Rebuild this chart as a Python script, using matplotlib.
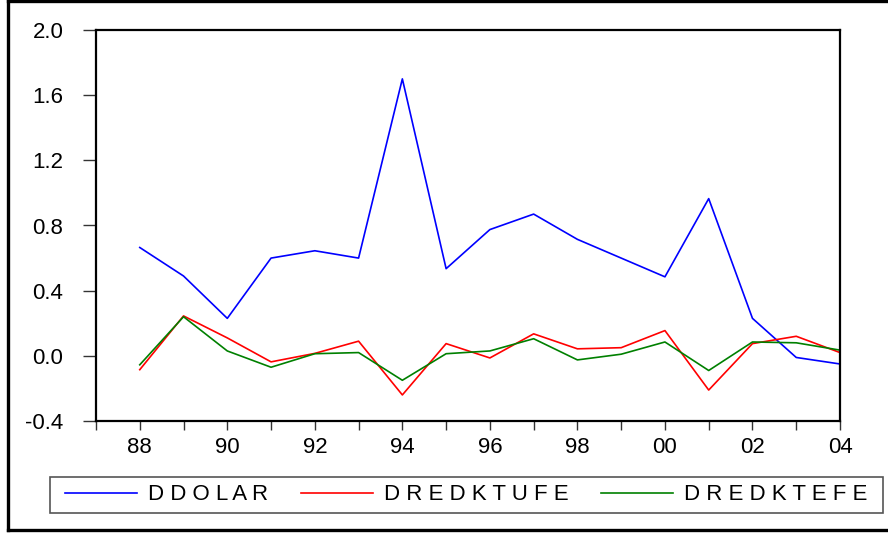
import matplotlib
matplotlib.use("Agg")
import matplotlib.pyplot as plt
from matplotlib.lines import Line2D
from matplotlib.patches import Rectangle
from matplotlib.ticker import FixedLocator, FuncFormatter

plt.rcParams['font.family'] = ['Liberation Sans', 'DejaVu Sans']

years = list(range(1988, 2005))
ddolar = [0.665, 0.49, 0.23, 0.60, 0.645, 0.60, 1.70, 0.535, 0.775, 0.87,
          0.715, 0.60, 0.485, 0.965, 0.23, -0.01, -0.05]
dredktufe = [-0.085, 0.245, 0.11, -0.037, 0.015, 0.09, -0.24, 0.075, -0.013, 0.135,
             0.043, 0.05, 0.155, -0.21, 0.075, 0.12, 0.02]
dredktefe = [-0.055, 0.24, 0.03, -0.07, 0.013, 0.02, -0.15, 0.013, 0.03, 0.105,
             -0.025, 0.01, 0.085, -0.09, 0.085, 0.08, 0.035]
labels = ["D D O L A R", "D R E D K T U F E", "D R E D K T E F E"]
yticks = [-0.4, 0.0, 0.4, 0.8, 1.2, 1.6, 2.0]

W, H = 888, 533
FS = 16
fig = plt.figure(figsize=(W / 100, H / 100), dpi=100)
ax = fig.add_axes([96 / W, 1 - 421 / H, (840 - 96) / W, (421 - 30) / H])

l1, = ax.plot(years, ddolar, color=(0, 0, 1), lw=1.2)
l2, = ax.plot(years, dredktufe, color=(1, 0, 0), lw=1.2)
l3, = ax.plot(years, dredktefe, color=(0, 0.5, 0), lw=1.2)

ax.set_xlim(1987, 2004)
ax.set_ylim(-0.4, 2.0)
ax.set_yticks(yticks)
ax.yaxis.set_major_formatter(FuncFormatter(lambda v, p: f"{v:.1f}"))
ax.xaxis.set_major_locator(FixedLocator(list(range(1987, 2005))))
ax.xaxis.set_major_formatter(FuncFormatter(
    lambda v, p: f"{int(round(v)) % 100:02d}" if int(round(v)) % 2 == 0 else ""))

for s in ax.spines.values():
    s.set_linewidth(1.6)
    s.set_color('black')
ax.tick_params(axis='y', direction='out', length=9.5, width=1.0, pad=14,
               labelsize=FS, color='#333333')
ax.tick_params(axis='x', direction='out', length=6.5, width=1.0, pad=5,
               labelsize=FS, color='#333333')

leg = fig.legend([l1, l2, l3], labels, ncol=3, loc='center left',
                 bbox_to_anchor=(65 / W, 1 - 495 / H),
                 borderaxespad=0, frameon=False, borderpad=0,
                 prop={'size': FS}, handlelength=3.25, handletextpad=0.5,
                 columnspacing=1.45)
fig.add_artist(Rectangle((50 / W, 1 - 513 / H), (883 - 50) / W, 36 / H,
                         transform=fig.transFigure, fill=False,
                         edgecolor='#555555', lw=1.2))

# outer frame
lw = 2.4
fig.add_artist(Line2D([8 / W, 8 / W], [1 - 1 / H, 1 - 530 / H], transform=fig.transFigure, color='black', lw=lw))
fig.add_artist(Line2D([8 / W, 1.01], [1 - 1 / H, 1 - 1 / H], transform=fig.transFigure, color='black', lw=lw))
fig.add_artist(Line2D([8 / W, 1.01], [1 - 530 / H, 1 - 530 / H], transform=fig.transFigure, color='black', lw=lw))

fig.savefig("out.png", dpi=100)
